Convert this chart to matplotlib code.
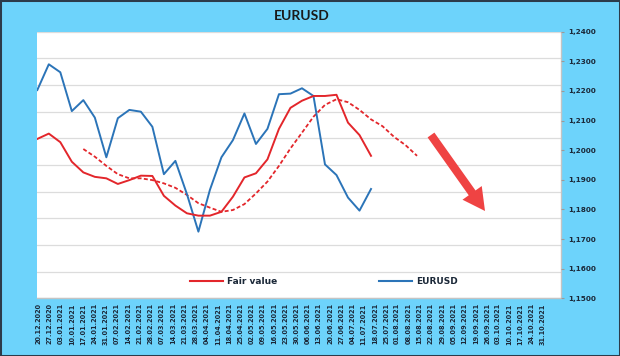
import matplotlib
matplotlib.use("Agg")
import matplotlib.pyplot as plt
from matplotlib.patches import Rectangle
from matplotlib.lines import Line2D
from matplotlib.ticker import FuncFormatter
import numpy as np

# ---------------- data ----------------
week_labels = ["20.12.2020", "27.12.2020", "03.01.2021", "10.01.2021", "17.01.2021",
               "24.01.2021", "31.01.2021", "07.02.2021", "14.02.2021", "21.02.2021",
               "28.02.2021", "07.03.2021", "14.03.2021", "21.03.2021", "28.03.2021",
               "04.04.2021", "11.04.2021", "18.04.2021", "25.04.2021", "02.05.2021",
               "09.05.2021", "16.05.2021", "23.05.2021", "30.05.2021", "06.06.2021",
               "13.06.2021", "20.06.2021", "27.06.2021", "04.07.2021", "11.07.2021",
               "18.07.2021", "25.07.2021", "01.08.2021", "08.08.2021", "15.08.2021",
               "22.08.2021", "29.08.2021", "05.09.2021", "12.09.2021", "19.09.2021",
               "26.09.2021", "03.10.2021", "10.10.2021", "17.10.2021", "24.10.2021",
               "31.10.2021"]
eurusd = [1.2203, 1.2290, 1.2263, 1.2132, 1.2169, 1.2110, 1.1976, 1.2108, 1.2136, 1.2130,
          1.2079, 1.1919, 1.1964, 1.1852, 1.1725, 1.1866, 1.1976, 1.2034, 1.2124, 1.2021,
          1.2072, 1.2189, 1.2191, 1.2209, 1.2183, 1.1952, 1.1916, 1.1840, 1.1796, 1.1869]
fair_value = [1.2038, 1.2056, 1.2027, 1.1961, 1.1925, 1.1910, 1.1905, 1.1886, 1.1899, 1.1914,
              1.1913, 1.1846, 1.1813, 1.1787, 1.1779, 1.1779, 1.1792, 1.1843, 1.1908, 1.1922,
              1.1969, 1.2072, 1.2143, 1.2167, 1.2183, 1.2183, 1.2187, 1.2093, 1.2051, 1.1981]
fair_value_shift = 4
fair_value_ma = [1.2004, 1.1978, 1.1947, 1.1919, 1.1905, 1.1905, 1.1899, 1.1888, 1.1873, 1.1849,
                 1.1821, 1.1806, 1.1792, 1.1798, 1.1818, 1.1854, 1.1894, 1.1947, 1.2006, 1.2059,
                 1.2113, 1.2153, 1.2172, 1.2162, 1.2136, 1.2104, 1.2081, 1.2045, 1.2017, 1.1981]
y_ticks = [1.15, 1.16, 1.17, 1.18, 1.19, 1.20, 1.21, 1.22, 1.23, 1.24]

# ---------------- style ----------------
BG = "#6dd3fb"
BLUE = "#2b74b8"
RED = "#e3262b"
TXT = "#1b2838"

W, H = 620, 356
fig = plt.figure(figsize=(W / 100, H / 100), dpi=100)
fig.patch.set_facecolor(BG)

L, R, T, B = 37.3, 561.0, 31.7, 298.3
pos = [L / W, 1 - B / H, (R - L) / W, (B - T) / H]

# base axes: white plot area, 10-division gridlines, category labels
ax = fig.add_axes(pos)
ax.set_facecolor("white")
ax.set_ylim(0, 10)
ax.set_yticks(range(11))
ax.yaxis.grid(True, color="#dcdcdc", lw=0.9)
ax.tick_params(axis="y", left=False, labelleft=False)
ax.set_xlim(-0.09, 46.6)
ax.set_xticks(range(len(week_labels)))
ax.set_xticklabels(week_labels, rotation=90, fontsize=4.7, fontweight="bold",
                   color=TXT, va="top", ha="center")
ax.tick_params(axis="x", length=0, pad=3.5)
for s in ["left", "top"]:
    ax.spines[s].set_visible(False)
for s in ["right", "bottom"]:
    ax.spines[s].set_color("#c4c4c4")
    ax.spines[s].set_linewidth(1.0)
ax.set_axisbelow(True)

# data axes
axd = fig.add_axes(pos, facecolor="none")
axd.set_ylim(y_ticks[0], y_ticks[-1])
axd.set_xlim(0, 45.51)
axd.set_xticks([])
axd.set_yticks(y_ticks)
axd.yaxis.tick_right()
axd.yaxis.set_major_formatter(FuncFormatter(lambda v, p: f"{v:.4f}".replace(".", ",")))
axd.tick_params(axis="y", length=2, color="#9a9a9a", pad=3.5, labelsize=5.2,
                labelcolor=TXT)
for lab in axd.get_yticklabels():
    lab.set_fontweight("bold")
for s in axd.spines.values():
    s.set_visible(False)

x_b = np.arange(len(eurusd))
x_r = np.arange(len(fair_value))
x_m = np.arange(len(fair_value_ma)) + fair_value_shift
axd.plot(x_m, fair_value_ma, color=RED, lw=1.3, linestyle=(0, (2.2, 1.3)), zorder=3)
axd.plot(x_b, eurusd, color=BLUE, lw=1.4, zorder=4)
axd.plot(x_r, fair_value, color=RED, lw=1.4, zorder=5)

# legend
handles = [Line2D([], [], color=RED, lw=1.5), Line2D([], [], color=BLUE, lw=1.5)]
leg = axd.legend(handles, ["Fair value", "EURUSD"], ncol=2, frameon=False,
                 loc="center left", bbox_to_anchor=((190 - L) / (R - L), (B - 282) / (B - T)),
                 borderpad=0, borderaxespad=0, handlelength=3.6, handletextpad=0.5,
                 columnspacing=11.3, prop={"size": 6.5, "weight": "bold"})
for t in leg.get_texts():
    t.set_color(TXT)

# red trend arrow (decoration)
ax.annotate("", xy=((485 - L) / (R - L), (B - 211) / (B - T)),
            xytext=((431 - L) / (R - L), (B - 135) / (B - T)),
            xycoords="axes fraction", textcoords="axes fraction",
            arrowprops=dict(arrowstyle="simple,head_width=0.85,head_length=0.8,tail_width=0.3",
                            mutation_scale=20, color="#ef4343", lw=0, shrinkA=0, shrinkB=0),
            zorder=6)

# title
fig.text(302 / W, 1 - 15.8 / H, "EURUSD", ha="center", va="center",
         fontsize=10, fontweight="bold", color="#1a1a1a", family=["Lato", "DejaVu Sans"])

# outer border
fig.patches.append(Rectangle((0, 0), 1, 1, transform=fig.transFigure, fill=False,
                             edgecolor="#2c3b4a", lw=2.2))

fig.savefig("out.png", dpi=100, facecolor=BG)
